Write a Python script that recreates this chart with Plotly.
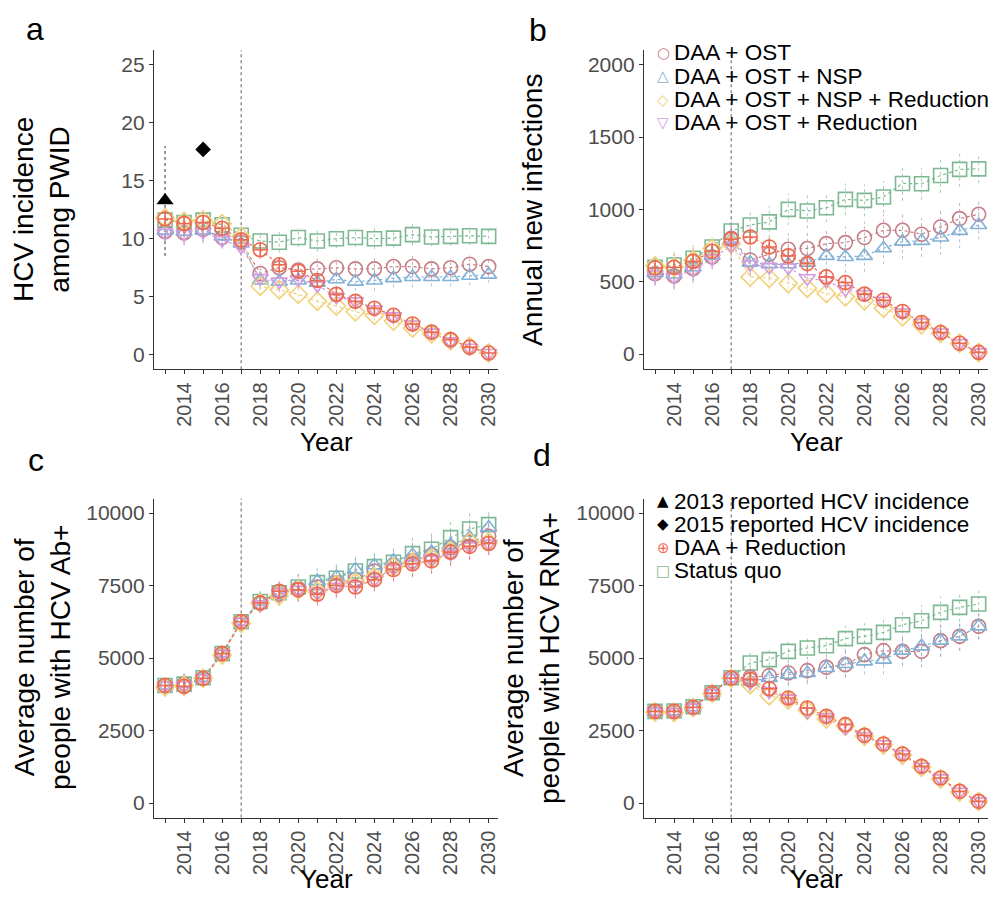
import plotly.graph_objects as go

years = list(range(2013, 2031))
names = ["Status quo", "DAA + OST", "DAA + OST + NSP", "DAA + OST + Reduction",
         "DAA + OST + NSP + Reduction", "DAA + Reduction"]

# Panel a: HCV incidence among PWID
a_status = [11.6, 11.4, 11.6, 11.2, 10.3, 9.8, 9.7, 10.1, 9.8, 10.0, 10.1, 10.0, 10.05, 10.35, 10.15, 10.2, 10.25, 10.2]
a_ost = [10.6, 10.5, 10.8, 10.1, 9.7, 7.0, 7.5, 7.3, 7.4, 7.5, 7.4, 7.4, 7.6, 7.6, 7.4, 7.5, 7.8, 7.6]
a_nsp = [10.7, 10.6, 10.7, 10.2, 9.6, 6.4, 6.3, 6.4, 6.2, 6.5, 6.3, 6.4, 6.6, 6.7, 6.7, 6.7, 6.8, 6.9]
a_ost_red = [10.5, 10.4, 10.6, 9.9, 9.3, 6.6, 6.3, 6.5, 6.0, 5.0, 4.6, 3.9, 3.3, 2.6, 1.9, 1.15, 0.6, 0.15]
a_nsp_red = [11.8, 11.5, 11.6, 11.3, 10.2, 5.9, 5.6, 5.2, 4.6, 4.2, 3.7, 3.4, 2.9, 2.3, 1.8, 1.2, 0.7, 0.15]
a_daa_red = [11.7, 11.3, 11.4, 10.9, 9.9, 9.05, 7.75, 7.2, 6.4, 5.2, 4.6, 4.0, 3.4, 2.65, 1.95, 1.3, 0.65, 0.15]
a_err = [1.0, 1.0, 1.0, 0.8, 0.8, 0.8, 0.9, 0.8, 0.9, 0.8, 0.8, 0.9, 0.8, 0.9, 0.8, 0.8, 0.8, 0.7]
a_err_red = [1.0, 1.0, 1.0, 0.8, 0.8, 0.8, 0.7, 0.7, 0.6, 0.6, 0.5, 0.5, 0.5, 0.4, 0.4, 0.3, 0.3, 0.2]

# Reported incidence
rep_2013 = 13.3
rep_2013_lo = 8.5
rep_2013_hi = 18.0
rep_2015 = 17.7

# Panel b: annual new infections
b_status = [600, 615, 662, 740, 850, 892, 913, 1000, 989, 1011, 1069, 1062, 1085, 1179, 1177, 1234, 1276, 1280]
b_ost = [555, 540, 590, 670, 800, 650, 690, 724, 729, 763, 770, 805, 855, 855, 828, 878, 936, 966]
b_nsp = [560, 550, 600, 680, 790, 632, 620, 620, 632, 678, 671, 678, 731, 777, 782, 805, 851, 892]
b_ost_red = [550, 530, 580, 660, 750, 620, 602, 598, 524, 506, 448, 414, 368, 287, 218, 149, 74, 11]
b_nsp_red = [610, 600, 650, 730, 760, 533, 524, 487, 455, 418, 395, 368, 317, 257, 202, 143, 74, 11]
b_daa_red = [595, 600, 640, 710, 793, 809, 740, 678, 625, 533, 494, 414, 372, 294, 218, 149, 74, 11]
b_err = [80, 90, 90, 80, 90, 100, 110, 110, 120, 100, 110, 110, 110, 120, 110, 120, 120, 100]
b_err_red = [80, 90, 90, 80, 90, 80, 80, 80, 70, 60, 60, 50, 50, 40, 40, 30, 20, 10]

# Panel c: people with HCV Ab+
c_status = [4050, 4100, 4320, 5150, 6250, 6950, 7250, 7450, 7600, 7750, 8000, 8150, 8300, 8600, 8750, 9150, 9450, 9600]
c_ost = [4050, 4100, 4300, 5150, 6250, 6900, 7200, 7400, 7450, 7600, 7700, 8000, 8200, 8350, 8550, 8800, 9000, 9200]
c_nsp = [4050, 4120, 4320, 5150, 6250, 6950, 7250, 7450, 7650, 7800, 8050, 8200, 8350, 8550, 8650, 8900, 9150, 9500]
c_ost_red = [4050, 4050, 4300, 5150, 6250, 6850, 7250, 7350, 7250, 7450, 7500, 7700, 8100, 8250, 8400, 8600, 8850, 8950]
c_nsp_red = [4000, 4050, 4300, 5100, 6200, 6900, 7150, 7350, 7300, 7550, 7600, 7800, 8150, 8300, 8450, 8700, 9000, 9000]
c_daa_red = [4050, 4020, 4300, 5150, 6250, 6900, 7300, 7350, 7200, 7500, 7450, 7700, 8050, 8250, 8350, 8650, 8850, 8950]
c_err = [300, 350, 300, 250, 250, 350, 400, 450, 450, 500, 500, 500, 500, 550, 600, 600, 600, 500]
c_err_red = [300, 350, 300, 250, 250, 300, 350, 400, 400, 400, 400, 400, 400, 450, 450, 450, 450, 400]

# Panel d: people with HCV RNA+
d_status = [3160, 3170, 3320, 3800, 4320, 4828, 4943, 5230, 5345, 5425, 5667, 5747, 5885, 6149, 6287, 6575, 6747, 6862]
d_ost = [3160, 3150, 3300, 3790, 4310, 4333, 4391, 4483, 4563, 4678, 4770, 5115, 5253, 5230, 5230, 5598, 5747, 6092]
d_nsp = [3150, 3160, 3300, 3800, 4300, 4195, 4310, 4425, 4483, 4655, 4793, 4885, 4943, 5253, 5402, 5598, 5747, 6092]
d_ost_red = [3150, 3130, 3290, 3780, 4300, 4150, 3850, 3600, 3150, 2950, 2600, 2300, 2020, 1680, 1250, 850, 390, 55]
d_nsp_red = [3140, 3120, 3290, 3780, 4300, 4080, 3700, 3550, 3200, 2900, 2650, 2300, 2000, 1650, 1230, 830, 380, 50]
d_daa_red = [3160, 3160, 3300, 3790, 4310, 4253, 3942, 3621, 3276, 2988, 2701, 2333, 2034, 1690, 1264, 862, 402, 57]
d_err = [200, 200, 200, 200, 250, 350, 400, 400, 400, 400, 450, 450, 500, 500, 550, 550, 500, 450]
d_err_red = [200, 200, 200, 200, 250, 300, 300, 300, 300, 250, 250, 250, 200, 200, 200, 150, 150, 100]

# Legend entries (two legend blocks)
legend1_labels = ["DAA + OST", "DAA + OST + NSP", "DAA + OST + NSP + Reduction", "DAA + OST + Reduction"]
legend2_labels = ["2013 reported HCV incidence", "2015 reported HCV incidence", "DAA + Reduction", "Status quo"]

colors = {
    "Status quo": "#7DB893",
    "DAA + OST": "#C57F87",
    "DAA + OST + NSP": "#82B1D6",
    "DAA + OST + Reduction": "#D59BDF",
    "DAA + OST + NSP + Reduction": "#F0D27A",
    "DAA + Reduction": "#EC6A52",
    "2013 reported HCV incidence": "black",
    "2015 reported HCV incidence": "black",
}
symbols = {
    "Status quo": "square-open",
    "DAA + OST": "circle-open",
    "DAA + OST + NSP": "triangle-up-open",
    "DAA + OST + Reduction": "triangle-down-open",
    "DAA + OST + NSP + Reduction": "diamond-open",
    "DAA + Reduction": "circle-cross-open",
}
glyphs = {
    "Status quo": "\u25a1",
    "DAA + OST": "\u25cb",
    "DAA + OST + NSP": "\u25b3",
    "DAA + OST + Reduction": "\u25bd",
    "DAA + OST + NSP + Reduction": "\u25c7",
    "DAA + Reduction": "\u2295",
    "2013 reported HCV incidence": "\u25b2",
    "2015 reported HCV incidence": "\u25c6",
}

panels = [
    ("x", "y", [a_status, a_ost, a_nsp, a_ost_red, a_nsp_red, a_daa_red], a_err, a_err_red),
    ("x2", "y2", [b_status, b_ost, b_nsp, b_ost_red, b_nsp_red, b_daa_red], b_err, b_err_red),
    ("x3", "y3", [c_status, c_ost, c_nsp, c_ost_red, c_nsp_red, c_daa_red], c_err, c_err_red),
    ("x4", "y4", [d_status, d_ost, d_nsp, d_ost_red, d_nsp_red, d_daa_red], d_err, d_err_red),
]

fig = go.Figure()
FONT = "Liberation Sans, Arial, sans-serif"

# reported points
fig.add_trace(go.Scatter(x=[2013, 2013], y=[rep_2013_lo, rep_2013_hi], mode="lines",
                         line=dict(color="#555555", width=1.2, dash="dot"),
                         showlegend=False, hoverinfo="skip", xaxis="x", yaxis="y"))
fig.add_trace(go.Scatter(x=[2013], y=[rep_2013], mode="markers", name="2013 reported HCV incidence",
                         marker=dict(symbol="triangle-up", size=15, color="black"),
                         showlegend=False, xaxis="x", yaxis="y"))
fig.add_trace(go.Scatter(x=[2015], y=[rep_2015], mode="markers", name="2015 reported HCV incidence",
                         marker=dict(symbol="diamond", size=12, color="black"),
                         showlegend=False, xaxis="x", yaxis="y"))

for xa, ya, series, err, err_red in panels:
    for name, vals in zip(names, series):
        col = colors[name]
        e = err_red if "Reduction" in name else err
        ex, ey = [], []
        for yr, v, ev in zip(years, vals, e):
            ex += [yr, yr, None]
            ey += [v - ev, v + ev, None]
        fig.add_trace(go.Scatter(x=ex, y=ey, mode="lines", line=dict(color=col, width=1, dash="dot"),
                                 opacity=0.7, showlegend=False, hoverinfo="skip", xaxis=xa, yaxis=ya))
        fig.add_trace(go.Scatter(x=years, y=vals, mode="lines", line=dict(color=col, width=1.2, dash="dot"),
                                 showlegend=False, hoverinfo="skip", xaxis=xa, yaxis=ya))

draw_order = ["Status quo", "DAA + OST", "DAA + OST + NSP", "DAA + OST + NSP + Reduction",
              "DAA + OST + Reduction", "DAA + Reduction"]
for name in draw_order:
    idx = names.index(name)
    for xa, ya, series, err, err_red in panels:
        fig.add_trace(go.Scatter(x=years, y=series[idx], mode="markers", name=name,
                                 marker=dict(symbol=symbols[name], size=14, color=colors[name],
                                             line=dict(width=1.6, color=colors[name])),
                                 showlegend=False, xaxis=xa, yaxis=ya))

W, H = 997, 897
def xd(l, r):
    return [l / W, r / W]
def yd(t, b):
    return [1 - b / H, 1 - t / H]

axis_common = dict(showline=True, linecolor="#333333", linewidth=1.3, ticks="outside", ticklen=4,
                   tickcolor="#333333", tickwidth=1.2, showgrid=False, zeroline=False,
                   tickfont=dict(size=21, color="#4D4D4D", family=FONT))
xcommon = dict(axis_common, range=[2012.42, 2030.49], tick0=2014, dtick=2, tickangle=-90,
               tickfont=dict(size=20, color="#4D4D4D", family=FONT),
               minor=dict(tick0=2013, dtick=1, ticks="outside", ticklen=4, tickcolor="#333333",
                          tickwidth=1.2, showgrid=False))

layout = dict(
    width=W, height=H, margin=dict(l=0, r=0, t=0, b=0),
    paper_bgcolor="white", plot_bgcolor="white",
    font=dict(family=FONT, color="black"),
    xaxis=dict(xcommon, domain=xd(146, 490), anchor="y"),
    xaxis2=dict(xcommon, domain=xd(636, 980), anchor="y2"),
    xaxis3=dict(xcommon, domain=xd(146, 490), anchor="y3"),
    xaxis4=dict(xcommon, domain=xd(636, 980), anchor="y4"),
    yaxis=dict(axis_common, domain=yd(42.2, 361.2), range=[-1.25, 26.25], tickvals=[0, 5, 10, 15, 20, 25], anchor="x"),
    yaxis2=dict(axis_common, domain=yd(42.2, 361.2), range=[-105, 2100], tickvals=[0, 500, 1000, 1500, 2000], anchor="x2"),
    yaxis3=dict(axis_common, domain=yd(490.5, 809.5), range=[-500, 10500], tickvals=[0, 2500, 5000, 7500, 10000], tickformat="d", anchor="x3"),
    yaxis4=dict(axis_common, domain=yd(490.5, 809.5), range=[-500, 10500], tickvals=[0, 2500, 5000, 7500, 10000], tickformat="d", anchor="x4"),
    showlegend=False,
)
fig.update_layout(**layout)

# vertical dotted line at 2017
for xa, ya in [("x", "y"), ("x2", "y2"), ("x3", "y3"), ("x4", "y4")]:
    fig.add_shape(type="line", xref=xa, yref=ya + " domain", x0=2017, x1=2017, y0=0, y1=1,
                  line=dict(color="#777777", width=1.2, dash="dot"), layer="below")

def ann(text, x, y, size, angle=0, xanchor="center", yanchor="middle", color="black", family=FONT):
    fig.add_annotation(text=text, x=x / W, y=1 - y / H, xref="paper", yref="paper",
                       showarrow=False, textangle=angle, xanchor=xanchor, yanchor=yanchor,
                       font=dict(size=size, family=family, color=color))

ann("a", 27, 21, 32)
ann("b", 530, 22, 32)
ann("c", 28, 452, 32)
ann("d", 534, 447, 32)
ann("HCV incidence<br>among PWID", 33, 202, 28, -90)
ann("Annual new infections", 524, 202, 28, -90)
ann("Average number of<br>people with HCV Ab+", 34, 650, 28, -90)
ann("Average number of<br>people with HCV RNA+", 523, 650, 28, -90)
ann("Year", 318, 434, 26)
ann("Year", 808, 434, 26)
ann("Year", 318, 871, 26)
ann("Year", 808, 871, 26)

# legend blocks (symbol glyph + label text)
def legend_block(labels, top_y, step, sym_x, text_x):
    for i, lab in enumerate(labels):
        yy = top_y + i * step
        ann(glyphs[lab], sym_x, yy, 15, color=colors[lab], family="DejaVu Sans")
        ann(lab, text_x, yy, 22.5, xanchor="left")

legend_block(legend1_labels, 45, 23.3, 655, 664)
legend_block(legend2_labels, 493.3, 23.1, 655, 664)

fig.write_html("out.html")
